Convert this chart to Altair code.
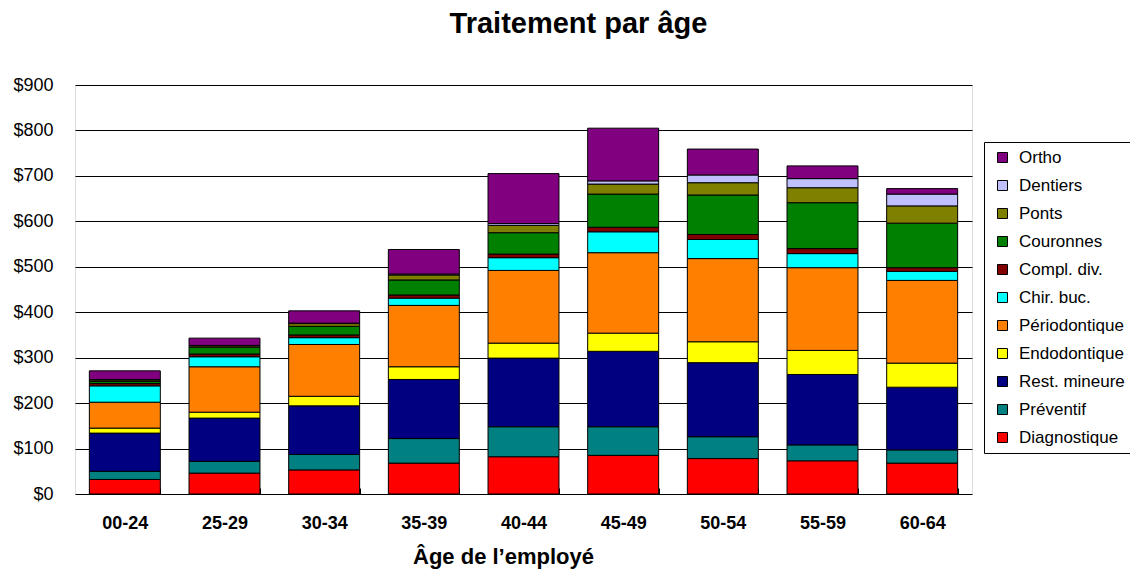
import altair as alt
import pandas as pd

ages = ["00-24", "25-29", "30-34", "35-39", "40-44", "45-49", "50-54", "55-59", "60-64"]

# stacking order bottom -> top
series_names = ["Diagnostique", "Préventif", "Rest. mineure", "Endodontique", "Périodontique",
                "Chir. buc.", "Compl. div.", "Couronnes", "Ponts", "Dentiers", "Ortho"]

diagnostique = [32, 46, 53, 68, 82, 85, 78, 73, 68]
preventif = [18, 26, 34, 54, 66, 63, 48, 35, 29]
rest_mineure = [84, 95, 107, 130, 151, 166, 163, 155, 138]
endodontique = [11, 13, 21, 28, 33, 40, 46, 53, 53]
periodontique = [57, 100, 114, 135, 160, 177, 183, 182, 182]
chir_buc = [36, 22, 15, 16, 28, 46, 42, 31, 20]
compl_div = [5, 6, 6, 7, 8, 10, 11, 11, 8]
couronnes = [5, 15, 19, 33, 47, 73, 87, 101, 98]
ponts = [3, 3, 6, 11, 16, 22, 27, 33, 38]
dentiers = [1, 1, 1, 2, 4, 7, 17, 20, 26]
ortho = [19, 16, 27, 54, 110, 116, 57, 28, 12]

series_values = [diagnostique, preventif, rest_mineure, endodontique, periodontique,
                 chir_buc, compl_div, couronnes, ponts, dentiers, ortho]

series_colors = ["#FF0000", "#008080", "#000080", "#FFFF00", "#FF8000",
                 "#00FFFF", "#800000", "#008000", "#808000", "#C0C0FF", "#800080"]

y_ticks = [0, 100, 200, 300, 400, 500, 600, 700, 800, 900]

rows = []
for i, (name, vals) in enumerate(zip(series_names, series_values)):
    for age, v in zip(ages, vals):
        rows.append({"age": age, "type": name, "value": v, "ord": i})
df = pd.DataFrame(rows)

FONT = "Liberation Sans"

legend_domain = list(reversed(series_names))
legend_range = list(reversed(series_colors))

bars = alt.Chart(df).mark_bar(stroke="black", strokeWidth=1).encode(
    x=alt.X(
        "age:N",
        sort=ages,
        scale=alt.Scale(paddingInner=0.288, paddingOuter=0.144),
        axis=alt.Axis(
            title="Âge de l’employé",
            titleFont=FONT, titleFontSize=22, titleFontWeight="bold", titleColor="black",
            titleBaseline="alphabetic", titleX=428, titleY=75,
            labelFont=FONT, labelFontSize=18, labelFontWeight="bold", labelColor="black",
            labelAngle=0, labelBaseline="alphabetic", labelPadding=34,
            domain=False, ticks=True, tickSize=6, tickColor="black", tickBand="extent",
            offset=-6, grid=False,
        ),
    ),
    y=alt.Y(
        "value:Q",
        stack="zero",
        scale=alt.Scale(domain=[0, 900], nice=False),
        axis=alt.Axis(
            title=None, values=y_ticks, format="$.0f",
            labelFont=FONT, labelFontSize=18, labelColor="black", labelPadding=22,
            ticks=False, domain=False,
            grid=True, gridColor="black", gridWidth=1, gridOpacity=1,
        ),
    ),
    color=alt.Color(
        "type:N",
        scale=alt.Scale(domain=legend_domain, range=legend_range),
        legend=alt.Legend(
            title=None, orient="none", legendX=909, legendY=57,
            strokeColor="black", fillColor="white", padding=7,
            rowPadding=10, symbolType="square", symbolSize=100,
            symbolStrokeColor="black", symbolStrokeWidth=1, symbolOffset=3,
            labelFont=FONT, labelFontSize=17, labelColor="black", labelOffset=8,
        ),
    ),
    order=alt.Order("ord:Q", sort="ascending"),
)

chart = bars.properties(
    width=897,
    height=409,
    title=alt.TitleParams(
        "Traitement par âge", font=FONT, fontSize=29, fontWeight="bold", color="black",
        anchor="middle", frame="group", baseline="alphabetic", offset=14, dx=55,
    ),
    autosize=alt.AutoSizeParams(type="none"),
    padding={"left": 67, "top": 77, "right": 158, "bottom": 75},
).configure_view(
    stroke="black", strokeWidth=1
).configure(background="white")

chart.save("out.html", embed_options={"renderer": "svg", "actions": False})
